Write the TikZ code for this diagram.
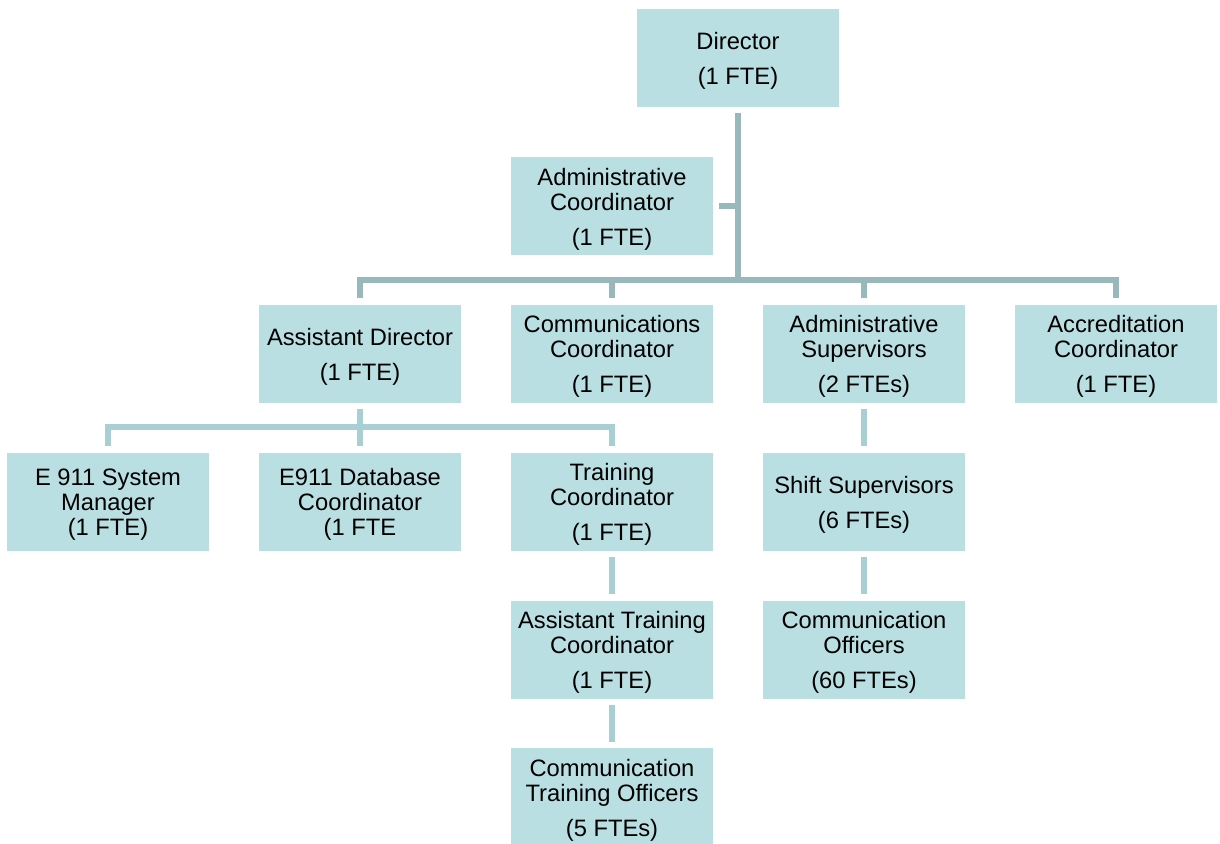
\documentclass[tikz,border=0pt]{standalone}
\usepackage{fontspec}
\setmainfont{Liberation Sans}
\definecolor{boxfill}{RGB}{186,223,226}
\definecolor{mainline}{RGB}{152,184,187}
\definecolor{subline}{RGB}{168,207,211}
\newcommand\toppad{\rule{0pt}{17.5pt}}
\tikzset{
  post/.style={fill=boxfill, minimum width=151.5pt, minimum height=73.5pt,
    inner sep=0pt, align=center, font=\fontsize{17.8}{18.75}\selectfont},
  mainlink/.style={draw=mainline, line width=4.5pt},
  sublink/.style={draw=subline, line width=4.5pt},
}

\begin{document}
\begin{tikzpicture}[x=0.75pt, y=-0.75pt]
			%%%%% START %%%%%
			\useasboundingbox (0,0) rectangle (1220,843);
			
			\node[post] (dir) at (738, 58) {\toppad Director\\[7.5pt](1 FTE)};
			\node[post] (admin) at (612, 206) {\toppad Administrative\\Coordinator\\[7.5pt](1 FTE)};
			
			\node[post] (asst) at (360, 353.5) {\toppad Assistant Director\\[7.5pt](1 FTE)};
			\node[post] (comm) at (612, 353.5) {\toppad Communications\\Coordinator\\[7.5pt](1 FTE)};
			\node[post] (sup) at (864, 353.5) {\toppad Administrative\\Supervisors\\[7.5pt](2 FTEs)};
			\node[post] (accr) at (1116, 353.5) {\toppad Accreditation\\Coordinator\\[7.5pt](1 FTE)};
			
			\node[post] (sys) at (108, 501.5) {\toppad E 911 System\\Manager\\(1 FTE)};
			\node[post] (db) at (360, 501.5) {\toppad E911 Database\\Coordinator\\(1 FTE};
			\node[post] (train) at (612, 501.5) {\toppad Training\\Coordinator\\[7.5pt](1 FTE)};
			\node[post] (shift) at (864, 501.5) {\toppad Shift Supervisors\\[7.5pt](6 FTEs)};
			
			\node[post] (atrain) at (612, 649.5) {\toppad Assistant Training\\Coordinator\\[7.5pt](1 FTE)};
			\node[post] (offc) at (864, 649.5) {\toppad Communication\\Officers\\[7.5pt](60 FTEs)};
			\node[post] (ctrain) at (612, 797) {\toppad Communication\\Training Officers\\[7.5pt](5 FTEs)};
			
			\coordinate (bus) at (738, 280);
			\coordinate (subbus) at (360, 427);
			
			\draw[mainlink, shorten <=4.5pt] (dir.south) -- (dir.south |- bus);
			\draw[mainlink, shorten <=4.5pt] (admin.east) -- (admin.east -| dir.south);
			\draw[mainlink, shorten <=4.5pt, shorten >=4.5pt] (asst.north) -- (asst.north |- bus) -- (accr.north |- bus) -- (accr.north);
			\draw[mainlink, shorten >=4.5pt] (comm.north |- bus) -- (comm.north);
			\draw[mainlink, shorten >=4.5pt] (sup.north |- bus) -- (sup.north);
			
			\draw[sublink, shorten <=4.5pt, shorten >=4.5pt] (asst.south) -- (db.north);
			\draw[sublink, shorten <=4.5pt, shorten >=4.5pt] (sys.north) -- (sys.north |- subbus) -- (train.north |- subbus) -- (train.north);
			
			\foreach \a/\b in {train/atrain, atrain/ctrain, sup/shift, shift/offc}
			  \draw[sublink, shorten <=4.5pt, shorten >=4.5pt] (\a.south) -- (\b.north);
			
			%%%%% END %%%%%
\end{tikzpicture}
\end{document}
